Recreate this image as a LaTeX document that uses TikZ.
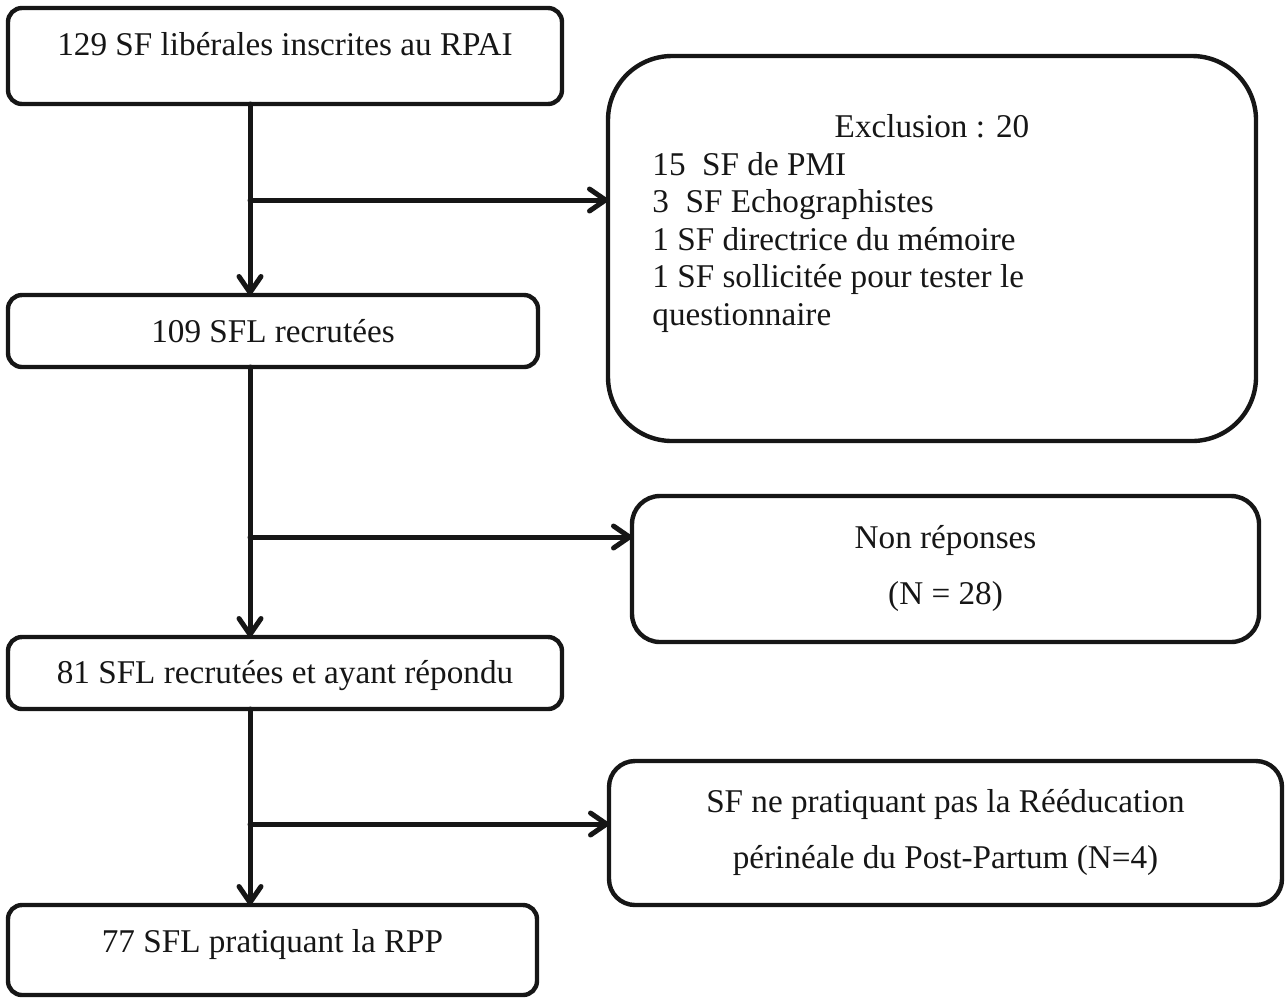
\documentclass[tikz,border=0pt]{standalone}
\usepackage{fontspec}
\setmainfont{Liberation Serif}
\usetikzlibrary{arrows.meta,calc}

\definecolor{ink}{HTML}{161616}
\tikzset{
  frame/.style={draw=ink, line width=2.2pt, inner sep=0pt, outer sep=0pt, anchor=north west, rounded corners=7pt},
  lbl/.style={inner sep=0pt, anchor=base, text=ink, font=\fontsize{16.6}{18.75}\selectfont},
  flow/.style={draw=ink, line width=2.5pt, line cap=round,
    -{Straight Barb[length=8pt,width=11pt,line cap=round,line join=round]}},
}

\begin{document}
\begin{tikzpicture}[x=0.5pt,y=-0.5pt]
\useasboundingbox (0,0) rectangle (1288,998);
% boxes of the main column
\node[frame, minimum width=277pt, minimum height=48pt] (b1) at (8,8) {};
\node[frame, minimum width=265pt, minimum height=36pt] (b2) at (8,295) {};
\node[frame, minimum width=277pt, minimum height=36pt] (b3) at (8,637) {};
\node[frame, minimum width=264.5pt, minimum height=45pt] (b4) at (8,905) {};
% side boxes
\node[frame, rounded corners=32pt, minimum width=324pt, minimum height=192.5pt] (excl) at (608,56) {};
\node[frame, rounded corners=14pt, minimum width=313.5pt, minimum height=73pt] (nonrep) at (632,496) {};
\node[frame, rounded corners=13pt, minimum width=336.5pt, minimum height=72pt] (sfbox) at (609,761) {};
% texts
\node[lbl] (t1) at ($(b1.north)+(0,47)$) {129 SF libérales inscrites au RPAI};
\node[lbl] (t2) at ($(b2.north)+(0,47)$) {109 SFL recrutées};
\node[lbl] (t3) at ($(b3.north)+(0,46)$) {81 SFL recrutées et ayant répondu};
\node[lbl] (t4) at ($(b4.north)+(0,47)$) {77 SFL pratiquant la RPP};
\node[lbl] (texcl) at ($(excl.north)+(0,81)$) {Exclusion : 20};
\node[lbl, anchor=north west, align=left] (tlist) at (652,152)
  {15\ \ SF de PMI\\3\ \ SF Echographistes\\1 SF directrice du mémoire\\1 SF sollicitée pour tester le\\questionnaire};
\node[lbl, anchor=north, align=center, font=\fontsize{16.6}{28}\selectfont] (tnr) at ($(nonrep.north)+(0,29)$) {Non réponses\\(N = 28)};
\node[lbl, anchor=north, align=center, font=\fontsize{16.6}{28}\selectfont] (tsf) at ($(sfbox.north)+(0,28)$) {SF ne pratiquant pas la Rééducation\\périnéale du Post-Partum (N=4)};
% connectors
\coordinate (k1) at (250,200);
\coordinate (k2) at (250,537);
\coordinate (k3) at (250,824);
\draw[flow] (k1 |- b1.south) -- (k1 |- b2.north);
\draw[flow] (k1) -- (k1 -| excl.west);
\draw[flow] (k2 |- b2.south) -- (k2 |- b3.north);
\draw[flow] (k2) -- (k2 -| nonrep.west);
\draw[flow] (k3 |- b3.south) -- (k3 |- b4.north);
\draw[flow] (k3) -- (k3 -| sfbox.west);
\end{tikzpicture}
\end{document}
